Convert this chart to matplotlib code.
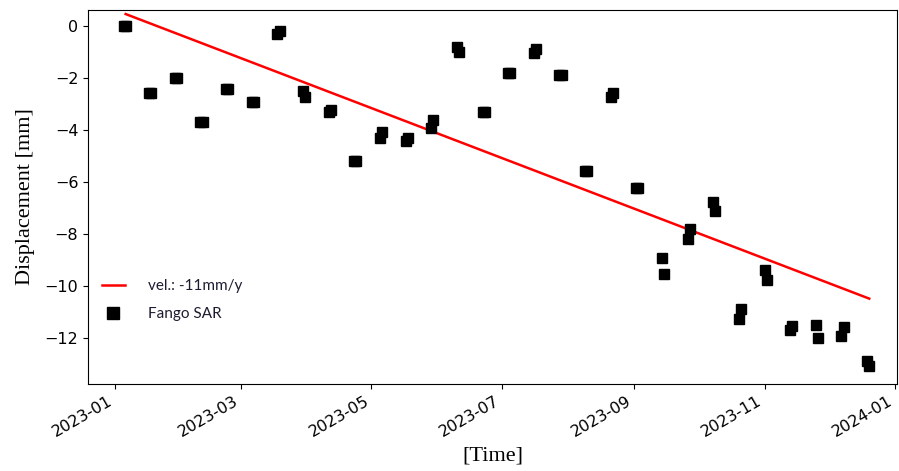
import datetime as dt
import matplotlib
matplotlib.use("Agg")
import matplotlib.pyplot as plt
import matplotlib.dates as mdates

# acquisition dates (12-day cycle), second pass is one day later
dates_b = [dt.date(2023, 1, 6) + dt.timedelta(days=12 * i) for i in range(30)]
dates_a = [d - dt.timedelta(days=1) for d in dates_b]

disp_a = [0.0, -2.59, -2.01, -3.70, -2.42, -2.91, -0.30, -2.50, -3.32, -5.19,
          -4.32, -4.41, -3.91, -0.81, -3.29, -1.79, -1.03, -1.88, -5.59, -2.72,
          -6.22, -8.91, -8.19, -6.77, -11.28, -9.40, -11.69, -11.50, -11.91, -12.90]
disp_b = [0.0, -2.59, -2.01, -3.70, -2.42, -2.91, -0.20, -2.72, -3.22, -5.19,
          -4.09, -4.32, -3.62, -1.00, -3.29, -1.79, -0.90, -1.88, -5.59, -2.56,
          -6.22, -9.53, -7.81, -7.10, -10.90, -9.78, -11.53, -12.00, -11.60, -13.10]

# trend line end points
fit_dates = [dt.date(2023, 1, 6), dt.date(2023, 12, 20)]
fit_values = [0.46, -10.49]
fit_label = "vel.: -11mm/y"
points_label = "Fango SAR"

fig = plt.figure(figsize=(8.99, 4.71), dpi=100)
ax = fig.add_axes([0.098, 0.185, 0.9, 0.794])

ax.plot(fit_dates, fit_values, color="red", lw=1.8, label=fit_label)
ax.plot(dates_a + dates_b, disp_a + disp_b, ls="none", marker="s", ms=7,
        color="black", label=points_label)

ax.set_xlim(mdates.date2num(dt.datetime(2022, 12, 19, 10)),
            mdates.date2num(dt.datetime(2024, 1, 2, 2)))
ax.set_ylim(-13.77, 0.62)

ax.xaxis.set_major_locator(mdates.MonthLocator(bymonth=[1, 3, 5, 7, 9, 11]))
ax.xaxis.set_major_formatter(mdates.DateFormatter("%Y-%m"))
for lbl in ax.get_xticklabels():
    lbl.set_rotation(30)
    lbl.set_ha("right")
ax.tick_params(labelsize=11.5)

ax.set_ylabel("Displacement [mm]", family="Liberation Serif", fontsize=16,
              labelpad=7)
ax.set_xlabel("[Time]", family="Liberation Serif", fontsize=16, labelpad=5)

leg = ax.legend(loc="lower left", bbox_to_anchor=(0.0, 0.13), frameon=False,
                prop={"family": "Lato", "size": 11}, handlelength=1.5,
                handletextpad=1.55, labelspacing=0.95, markerscale=1.2)
for t in leg.get_texts():
    t.set_color("#1c1c30")

fig.savefig("out.png", dpi=100)
